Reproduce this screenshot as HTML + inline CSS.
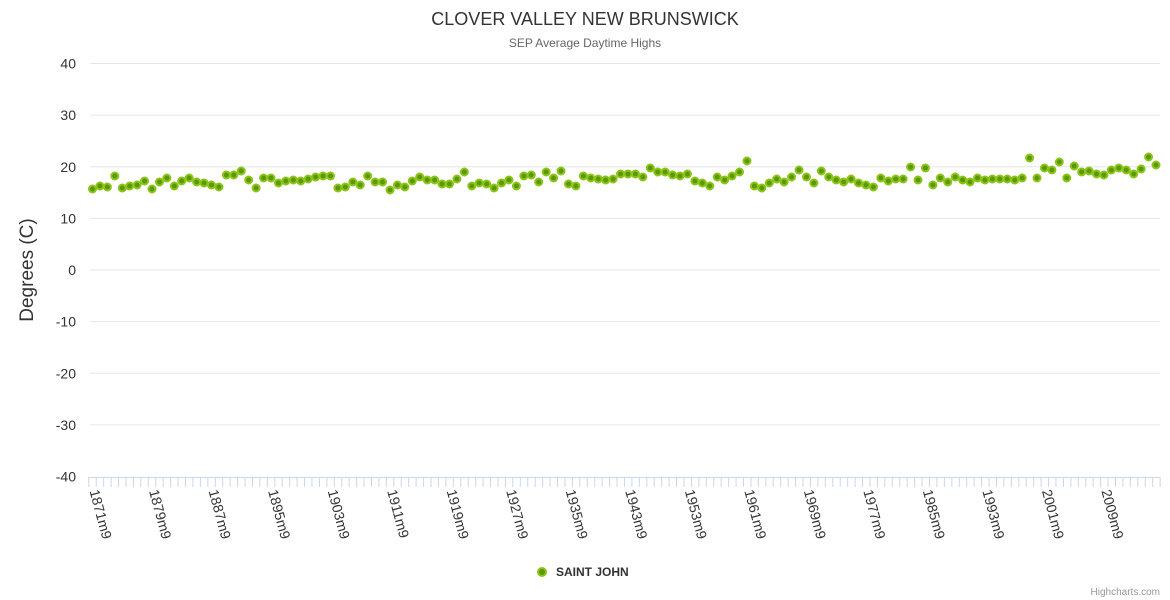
<!DOCTYPE html>
<html><head><meta charset="utf-8"><style>
html,body{margin:0;padding:0;background:#fff;}
svg{display:block;font-family:"Liberation Sans",sans-serif;}
</style></head><body>
<svg id="c" width="1170" height="600" xmlns="http://www.w3.org/2000/svg">
<text x="585" y="25" text-anchor="middle" font-size="18" fill="#333">CLOVER VALLEY NEW BRUNSWICK</text>
<text x="585" y="47" text-anchor="middle" font-size="12" fill="#666">SEP Average Daytime Highs</text>
<text transform="translate(33,270) rotate(-90)" text-anchor="middle" font-size="19" fill="#333">Degrees (C)</text>
<g id="grid"></g>
<g id="pts"></g>
<g transform="translate(542,572)"><circle cx="0" cy="0" r="4" fill="#5a9a00" stroke="#8cc41a" stroke-width="2"/></g>
<text x="556" y="576" font-size="12" font-weight="bold" fill="#333">SAINT JOHN</text>
<text x="1160" y="595" text-anchor="end" font-size="10" fill="#999">Highcharts.com</text>
</svg>
<script>
var ns="http://www.w3.org/2000/svg",g=document.getElementById('grid'),p=document.getElementById('pts');
function el(t,a,par){var e=document.createElementNS(ns,t);for(var k in a)e.setAttribute(k,a[k]);par.appendChild(e);return e;}
for(var v=40;v>=-40;v-=10){var y=270-v*5.1625;
 if(v>-40)el('line',{x1:90,x2:1160,y1:y,y2:y,stroke:'#e6e6e6','stroke-width':1},g);
 var t=el('text',{x:76,y:y+5,'text-anchor':'end','font-size':14,fill:'#333'},g);t.textContent=v;}
el('line',{x1:89,x2:1160,y1:477.5,y2:477.5,stroke:'#ccd6eb','stroke-width':1},g);
var sp=7.44,x0=92.5;
for(var i=0;i<=144;i++){var x=x0-sp/2+i*sp;el('line',{x1:x,x2:x,y1:477,y2:487,stroke:'#ccd6eb','stroke-width':1},g);}
var labels=['1871m9','1879m9','1887m9','1895m9','1903m9','1911m9','1919m9','1927m9','1935m9','1943m9','1953m9','1961m9','1969m9','1977m9','1985m9','1993m9','2001m9','2009m9'];
labels.forEach(function(l,k){var x=x0+k*8*sp-3;var t=el('text',{transform:'translate('+x+',491) rotate(75)','font-size':14,fill:'#333'},g);t.textContent=l;});
var ys=[189,186,187,176,188,186,185,181,189,182,178,186,181,178,182,183,185,187,175,175,171,180,188,178,178,183,181,180,181,179,177,176,176,188,187,182,185,176,182,182,190,185,187,181,177,180,180,184,184,179,172,186,183,184,188,183,180,186,176,175,182,172,178,171,184,186,176,178,179,180,179,174,174,174,177,168,172,172,175,176,174,181,183,186,177,180,176,172,161,186,188,183,179,182,177,170,177,183,171,177,180,182,179,183,185,187,178,181,179,179,167,180,168,185,178,182,177,180,182,178,180,179,179,179,180,178,158,178,168,170,162,178,166,172,171,174,175,170,168,170,174,169,157,165];
var s2=(1156-x0)/(ys.length-1);
ys.forEach(function(y,i){el('circle',{cx:x0+i*s2,cy:y,r:3.5,fill:'#5a9a00',stroke:'#8cc41a','stroke-width':2},p);});
</script>
</body></html>
